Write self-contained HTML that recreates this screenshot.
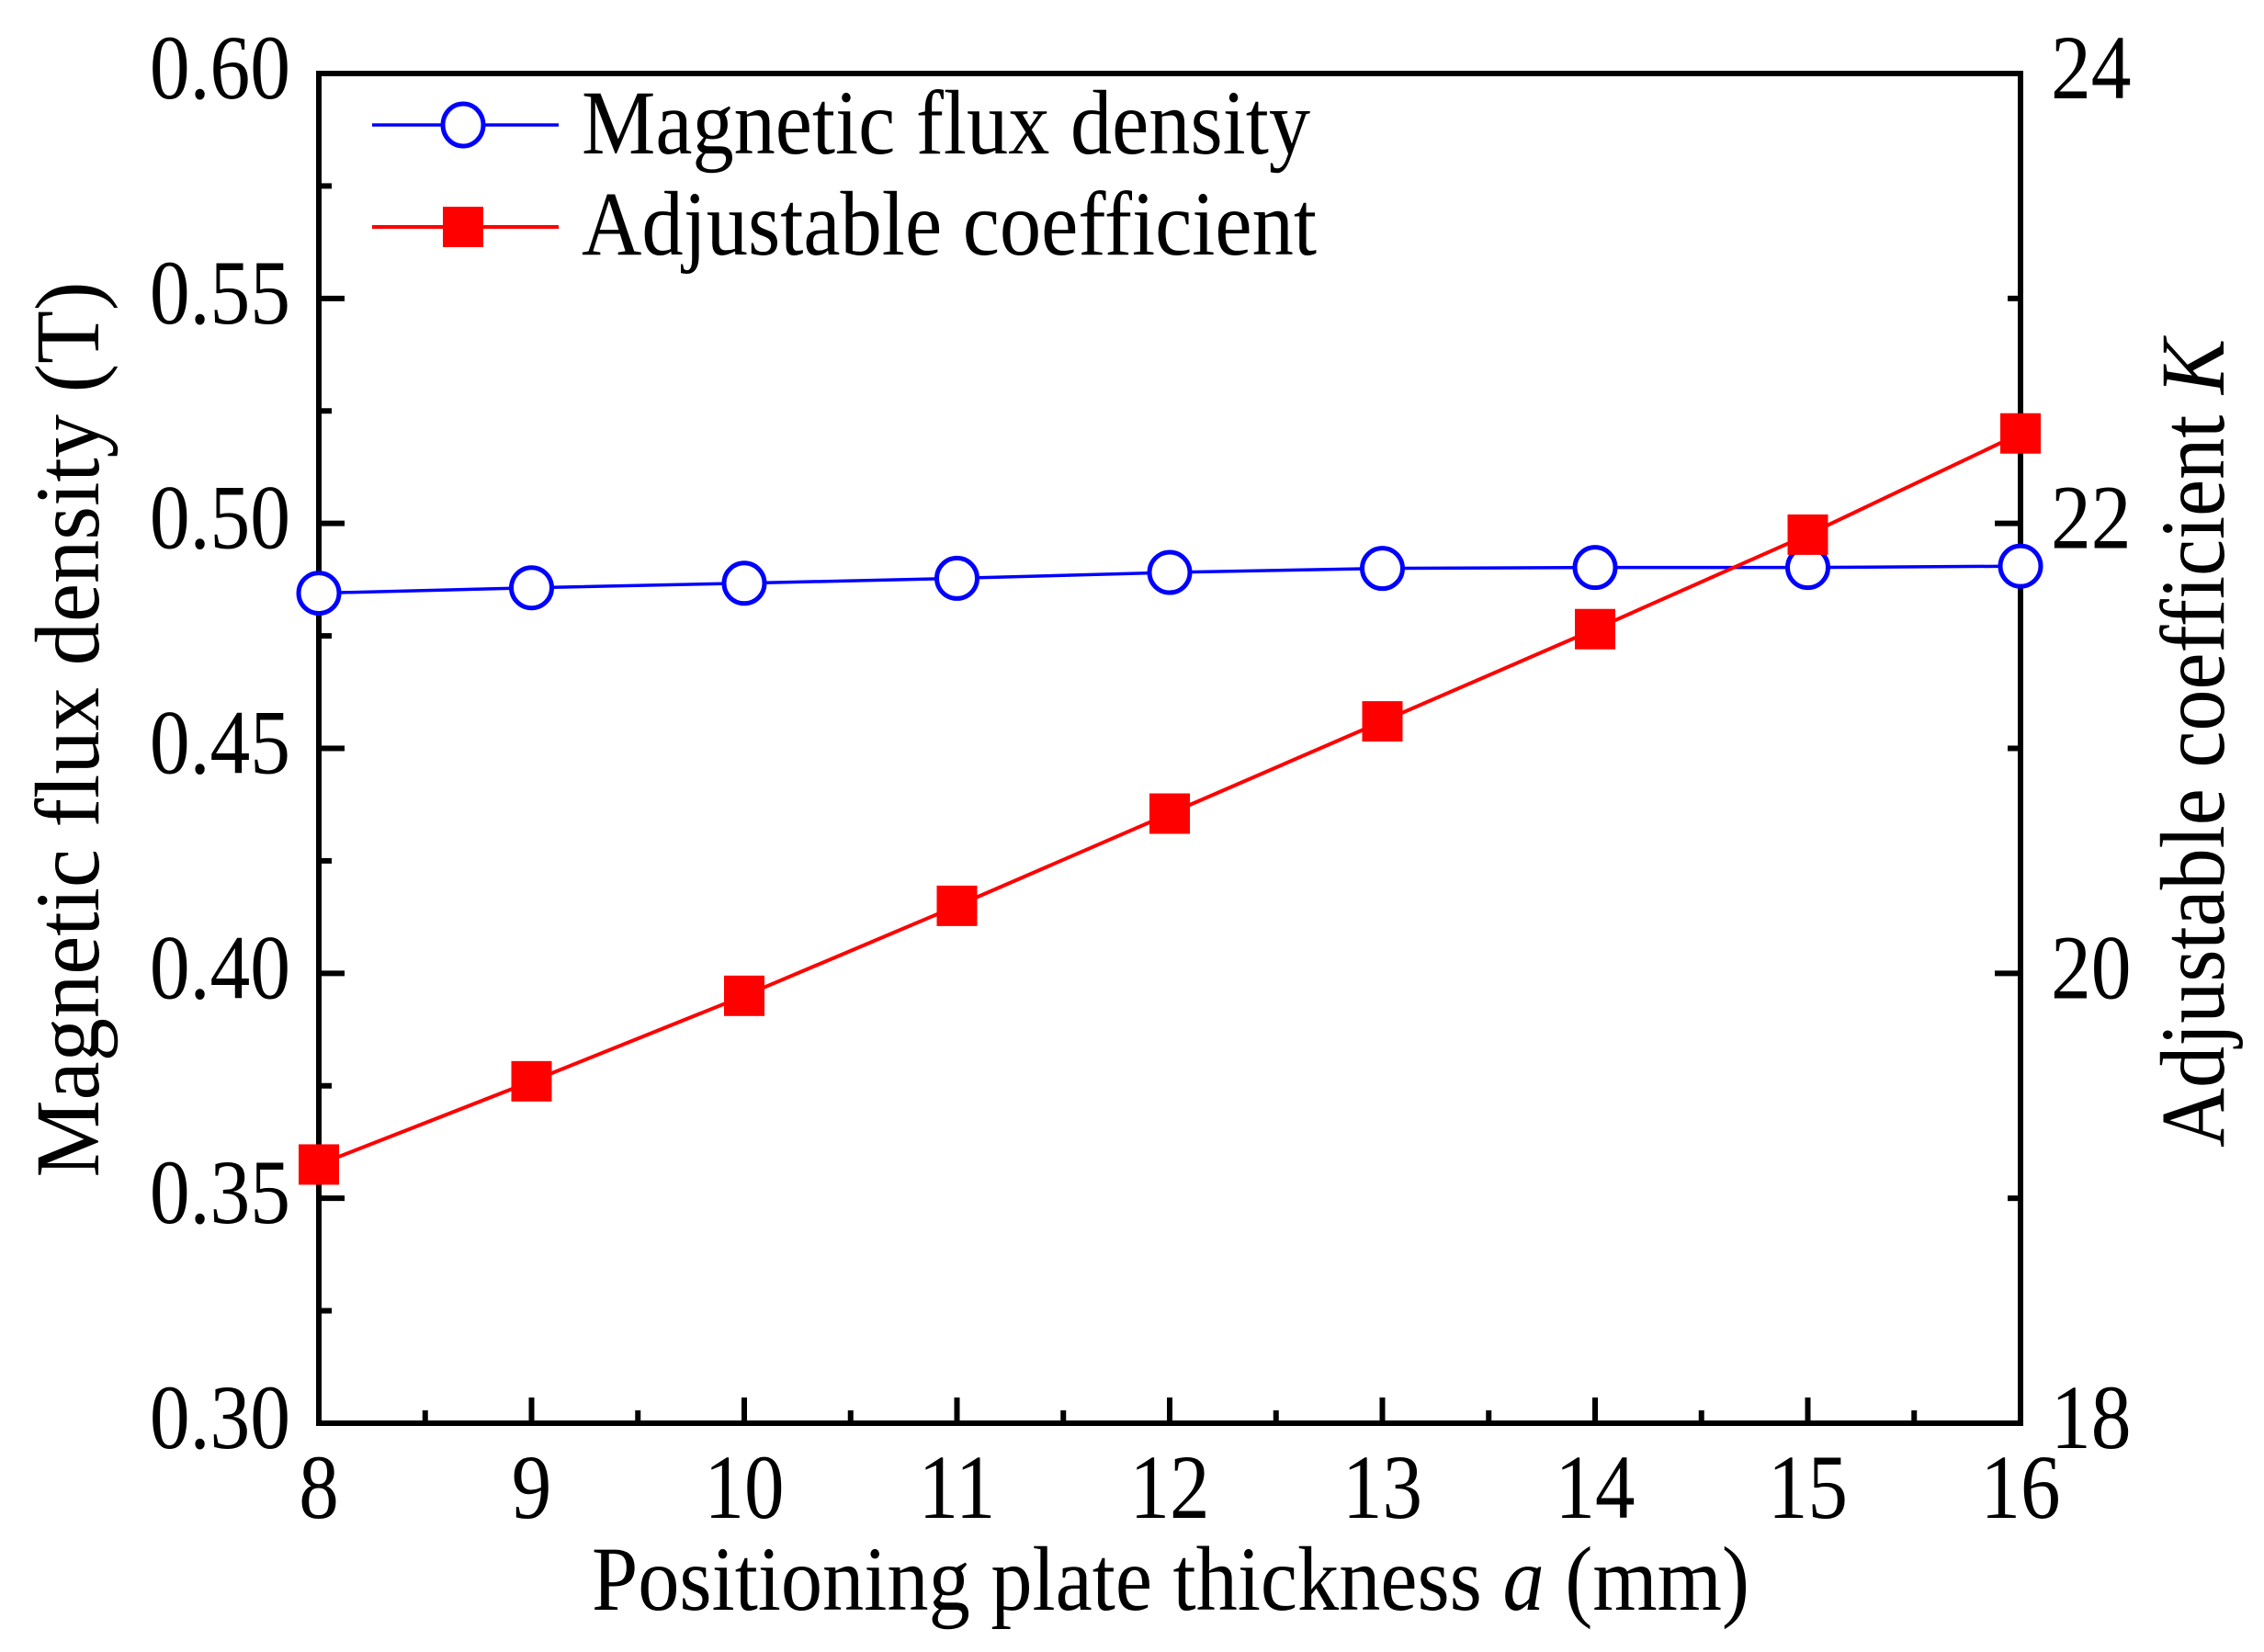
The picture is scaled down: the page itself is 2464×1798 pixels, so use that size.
<!DOCTYPE html>
<html><head><meta charset="utf-8"><style>
html,body{margin:0;padding:0;background:#fff;}
svg{display:block;font-family:"Liberation Serif",serif;}
</style></head><body>
<svg id="chart" width="2464" height="1798" viewBox="0 0 2464 1798" xmlns="http://www.w3.org/2000/svg">
<rect x="0" y="0" width="2464" height="1798" fill="#fff"/>
<g id="grid"></g>
</svg>
<script>
const xCategories = [8, 9, 10, 11, 12, 13, 14, 15, 16];
const fluxValues = [0.4845, 0.4857, 0.4867, 0.4878, 0.4891, 0.4900, 0.4902, 0.4902, 0.4905];
const kValues = [19.15, 19.52, 19.90, 20.30, 20.71, 21.12, 21.53, 21.95, 22.40];
const xTickLabels = ["8","9","10","11","12","13","14","15","16"];
const yLeftTicks = [0.30, 0.35, 0.40, 0.45, 0.50, 0.55, 0.60];
const yLeftTickLabels = ["0.30","0.35","0.40","0.45","0.50","0.55","0.60"];
const yRightTicks = [18, 20, 22, 24];
const yRightTickLabels = ["18","20","22","24"];

const NS = "http://www.w3.org/2000/svg";
const svg = document.getElementById('chart');
const L = 347, R = 2199, T = 80, B = 1549;
const xS = v => L + (v - 8) / 8 * (R - L);
const yL = v => B - (v - 0.30) / 0.30 * (B - T);
const yR = v => B - (v - 18) / 6 * (B - T);

function mk(tag, attrs, parent) {
  const e = document.createElementNS(NS, tag);
  for (const k in attrs) e.setAttribute(k, attrs[k]);
  (parent || svg).appendChild(e);
  return e;
}
function txt(str, attrs, scale) {
  const t = mk('text', attrs);
  t.textContent = str;
  if (scale) {
    const w = t.getComputedTextLength();
    t.setAttribute('textLength', (w * scale).toFixed(1));
    t.setAttribute('lengthAdjust', 'spacingAndGlyphs');
  }
  return t;
}

// ticks
const ticks = mk('g', {stroke: '#000', 'stroke-width': 6});


for (let i = 0; i < xCategories.length; i++) {
  const x = xS(xCategories[i]);
  mk('line', {x1: x, y1: B, x2: x, y2: B - 28}, ticks);
  if (i < xCategories.length - 1) {
    const xm = xS(xCategories[i] + 0.5);
    mk('line', {x1: xm, y1: B, x2: xm, y2: B - 14}, ticks);
  }
}
for (let i = 0; i < yLeftTicks.length; i++) {
  const y = yL(yLeftTicks[i]);
  mk('line', {x1: L, y1: y, x2: L + 28, y2: y}, ticks);
  if (i < yLeftTicks.length - 1) {
    const ym = yL(yLeftTicks[i] + 0.025);
    mk('line', {x1: L, y1: ym, x2: L + 14, y2: ym}, ticks);
  }
}
for (let i = 0; i < yRightTicks.length; i++) {
  const y = yR(yRightTicks[i]);
  mk('line', {x1: R, y1: y, x2: R - 28, y2: y}, ticks);
  if (i < yRightTicks.length - 1) {
    const ym = yR(yRightTicks[i] + 1);
    mk('line', {x1: R, y1: ym, x2: R - 14, y2: ym}, ticks);
  }
}
const frame = mk('rect', {x: L, y: T, width: R - L, height: B - T, fill: 'none', stroke: '#000', 'stroke-width': 6});



// tick labels
for (let i = 0; i < xTickLabels.length; i++) {
  const t = txt(xTickLabels[i], {x: xS(xCategories[i]), y: 1652, 'font-size': 100, 'text-anchor': 'middle'}, 0.87);
  
  
}
for (let i = 0; i < yLeftTickLabels.length; i++) {
  const t = txt(yLeftTickLabels[i], {x: 316, y: yL(yLeftTicks[i]) + 27, 'font-size': 100, 'text-anchor': 'end'}, 0.875);
  
  
}
for (let i = 0; i < yRightTickLabels.length; i++) {
  const t = txt(yRightTickLabels[i], {x: 2232, y: yR(yRightTicks[i]) + 27, 'font-size': 100, 'text-anchor': 'start'}, 0.875);
  
  
}

// series: flux
const fluxPts = xCategories.map((c, i) => xS(c) + ',' + yL(fluxValues[i])).join(' ');
const fl = mk('polyline', {points: fluxPts, fill: 'none', stroke: '#0000ff', 'stroke-width': 3.5});


// series: K
const kPts = xCategories.map((c, i) => xS(c) + ',' + yR(kValues[i])).join(' ');
const kl = mk('polyline', {points: kPts, fill: 'none', stroke: '#ff0000', 'stroke-width': 4});


for (let i = 0; i < xCategories.length; i++) {
  const c = mk('ellipse', {cx: xS(xCategories[i]), cy: yL(fluxValues[i]), rx: 22, ry: 22, fill: '#fff', stroke: '#0000ff', 'stroke-width': 5});
  
  
}
for (let i = 0; i < xCategories.length; i++) {
  const s = mk('rect', {x: xS(xCategories[i]) - 22, y: yR(kValues[i]) - 22, width: 44, height: 44, fill: '#ff0000'});
  
  
}

// legend
const lg = mk('g', {});


mk('line', {x1: 405, y1: 136, x2: 608, y2: 136, stroke: '#0000ff', 'stroke-width': 3.5}, lg);
mk('ellipse', {cx: 504, cy: 136, rx: 22, ry: 23, fill: '#fff', stroke: '#0000ff', 'stroke-width': 5}, lg);
mk('line', {x1: 405, y1: 247, x2: 608, y2: 247, stroke: '#ff0000', 'stroke-width': 4}, lg);
mk('rect', {x: 482, y: 225, width: 44, height: 44, fill: '#ff0000'}, lg);
const l1 = txt('Magnetic flux density', {x: 633, y: 167, 'font-size': 100, textLength: 793, lengthAdjust: 'spacingAndGlyphs'});


const l2 = txt('Adjustable coefficient', {x: 633, y: 277, 'font-size': 100, textLength: 800, lengthAdjust: 'spacingAndGlyphs'});



// axis titles
const xt = mk('text', {x: 1274, y: 1752, 'font-size': 100, 'text-anchor': 'middle', textLength: 1260, lengthAdjust: 'spacingAndGlyphs'});
xt.innerHTML = 'Positioning plate thickness <tspan font-style="italic">a</tspan> (mm)';


const ylt = mk('text', {x: 0, y: 0, 'font-size': 100, 'text-anchor': 'middle', transform: 'translate(107,794) rotate(-90)', textLength: 975, lengthAdjust: 'spacingAndGlyphs'});
ylt.textContent = 'Magnetic flux density (T)';


const yrt = mk('text', {x: 0, y: 0, 'font-size': 100, 'text-anchor': 'middle', transform: 'translate(2420,809) rotate(-90)', textLength: 880, lengthAdjust: 'spacingAndGlyphs'});
yrt.innerHTML = 'Adjustable coefficient <tspan font-style="italic">K</tspan>';


</script>
</body></html>
